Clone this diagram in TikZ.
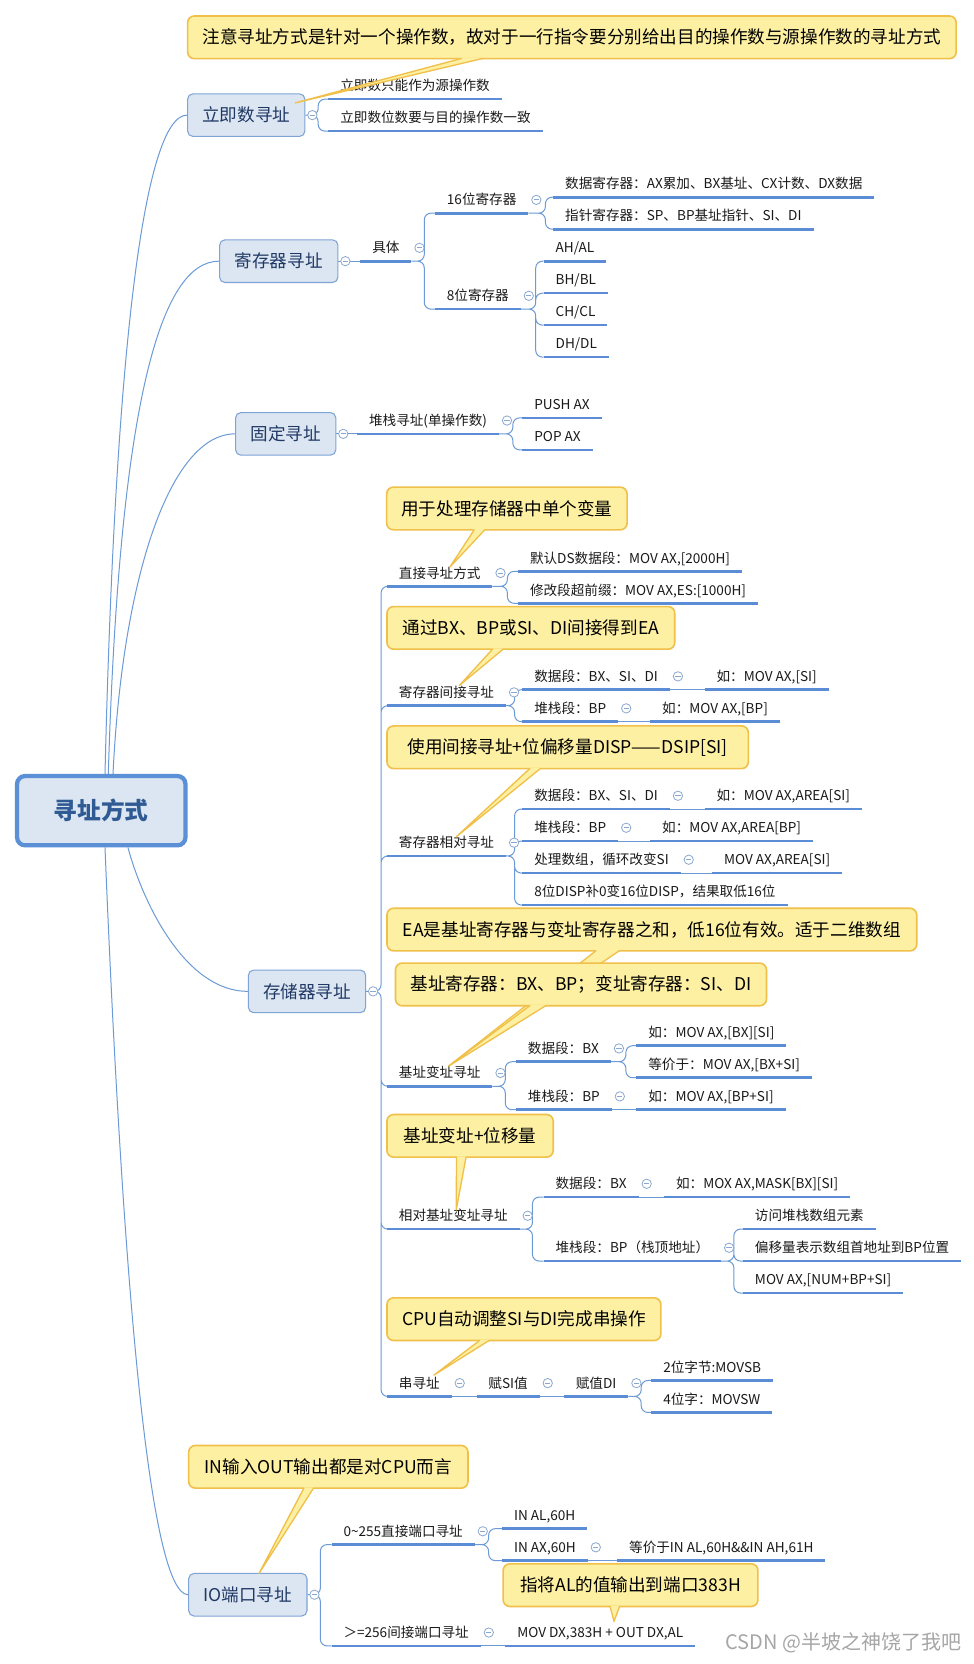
\documentclass[tikz,border=0pt]{standalone}
\usepackage{fontspec}
\setmainfont{Noto Sans CJK SC}
\usetikzlibrary{calc}
\definecolor{conncol}{HTML}{6B9AD6}
\definecolor{ulcol}{HTML}{5A8DD6}
\definecolor{boxfill}{HTML}{DCE6F2}
\definecolor{boxline}{HTML}{7EA3D4}
\definecolor{rootline}{HTML}{5B8FD6}
\definecolor{roottext}{HTML}{2F5A94}
\definecolor{maintext}{HTML}{1F3864}
\definecolor{topictext}{HTML}{1A1A1A}
\definecolor{memofill}{HTML}{FDF0A2}
\definecolor{memoline}{HTML}{F0C04A}
\definecolor{foldcol}{HTML}{8AA8CF}
\pgfdeclarelayer{bg}
\pgfdeclarelayer{lines}
\pgfsetlayers{bg,lines,main}

\begin{document}
\begin{tikzpicture}[x=0.8pt, y=-0.8pt,
	rootbox/.style={draw=rootline, line width=3.2pt, fill=boxfill, rounded corners=6pt, minimum width=126.4pt, minimum height=52pt, font=\fontsize{17.8}{20}\selectfont\bfseries, text=roottext},
	mainbox/.style={draw=boxline, line width=0.8pt, fill=boxfill, rounded corners=4pt, minimum height=32pt, font=\fontsize{13.2}{15}\selectfont, text=maintext},
	uline/.style={draw=ulcol, line width=2pt},
	topic/.style={anchor=south west, inner xsep=8.8pt, inner ysep=3.5pt, text height=8pt, text depth=2.5pt, font=\fontsize{10.2}{12}\selectfont, text=topictext, append after command={(\tikzlastnode.south west) edge[uline] (\tikzlastnode.south east)}},
	conn/.style={draw=conncol, line width=0.75pt, rounded corners=5pt},
	fold/.style={circle, draw=foldcol, fill=white, line width=0.6pt, minimum size=7pt, inner sep=0pt, path picture={\draw[foldcol, line width=0.6pt] ([xshift=-2pt]path picture bounding box.center) -- ([xshift=2pt]path picture bounding box.center);}},
	memo/.style={draw=memoline, line width=1.2pt, fill=memofill, rounded corners=5pt, minimum height=32pt, inner xsep=11pt, font=\fontsize{13.2}{15}\selectfont, text=black},
	memotail/.style={draw=memoline, line width=1pt, line join=round}]
	\begin{pgfonlayer}{bg}
		\fill[white] (0,0) rectangle (913.7,1561);
	\end{pgfonlayer}
	\useasboundingbox (0,0) rectangle (913.7,1561);

	\node[rootbox] (root) at (95,760.5) {寻址方式};
	\node[mainbox, minimum width=88pt] (imm) at (231,108) {立即数寻址};
	\node[mainbox, minimum width=88.8pt] (reg) at (261.5,245) {寄存器寻址};
	\node[mainbox, minimum width=75.2pt] (fix) at (268,407) {固定寻址};
	\node[mainbox, minimum width=88pt] (mem) at (288,930) {存储器寻址};
	\node[mainbox, minimum width=88.8pt] (io) at (232.5,1496) {IO端口寻址};

	\node[topic] (i1) at (308,93) {立即数只能作为源操作数};
	\node[topic] (i2) at (308,123) {立即数位数要与目的操作数一致};

	\node[topic] (r1) at (338,245) {具体};
	\node[topic] (r11) at (408,200) {16位寄存器};
	\node[topic] (r111) at (519,185) {数据寄存器：AX累加、BX基址、CX计数、DX数据};
	\node[topic] (r112) at (519,215) {指针寄存器：SP、BP基址指针、SI、DI};
	\node[topic] (r12) at (408,290) {8位寄存器};
	\node[topic] (r121) at (510,245) {AH/AL};
	\node[topic] (r122) at (510,275) {BH/BL};
	\node[topic] (r123) at (510,305) {CH/CL};
	\node[topic] (r124) at (510,335) {DH/DL};

	\node[topic] (f1) at (335,407) {堆栈寻址(单操作数)};
	\node[topic] (f11) at (490,392) {PUSH AX};
	\node[topic] (f12) at (490,422) {POP AX};

	\node[topic] (m1) at (363,550) {直接寻址方式};
	\node[topic] (m11) at (486,536) {默认DS数据段：MOV AX,[2000H]};
	\node[topic] (m12) at (486,566) {修改段超前缀：MOV AX,ES:[1000H]};
	\node[topic] (m2) at (363,662) {寄存器间接寻址};
	\node[topic] (m21) at (490,647) {数据段：BX、SI、DI};
	\node[topic] (m211) at (661,647) {如：MOV AX,[SI]};
	\node[topic] (m22) at (490,677) {堆栈段：BP};
	\node[topic] (m221) at (610,677) {如：MOV AX,[BP]};
	\node[topic] (m3) at (363,803) {寄存器相对寻址};
	\node[topic] (m31) at (490,759) {数据段：BX、SI、DI};
	\node[topic] (m311) at (661,759) {如：MOV AX,AREA[SI]};
	\node[topic] (m32) at (490,789) {堆栈段：BP};
	\node[topic] (m321) at (610,789) {如：MOV AX,AREA[BP]};
	\node[topic] (m33) at (490,819) {处理数组，循环改变SI};
	\node[topic] (m331) at (668,819) {MOV AX,AREA[SI]};
	\node[topic] (m34) at (490,849) {8位DISP补0变16位DISP，结果取低16位};
	\node[topic] (m4) at (363,1019) {基址变址寻址};
	\node[topic] (m41) at (484,996) {数据段：BX};
	\node[topic] (m411) at (597,981) {如：MOV AX,[BX][SI]};
	\node[topic] (m412) at (597,1011) {等价于：MOV AX,[BX+SI]};
	\node[topic] (m42) at (484,1041) {堆栈段：BP};
	\node[topic] (m421) at (597,1041) {如：MOV AX,[BP+SI]};
	\node[topic] (m5) at (363,1153) {相对基址变址寻址};
	\node[topic] (m51) at (510,1123) {数据段：BX};
	\node[topic] (m511) at (623,1123) {如：MOX AX,MASK[BX][SI]};
	\node[topic] (m52) at (510,1183) {堆栈段：BP（栈顶地址）};
	\node[topic] (m521) at (697,1153) {访问堆栈数组元素};
	\node[topic] (m522) at (697,1183) {偏移量表示数组首地址到BP位置};
	\node[topic] (m523) at (697,1213) {MOV AX,[NUM+BP+SI]};
	\node[topic] (m6) at (363,1310) {串寻址};
	\node[topic] (m61) at (447,1310) {赋SI值};
	\node[topic] (m611) at (529,1310) {赋值DI};
	\node[topic] (m6111) at (611,1295) {2位字节:MOVSB};
	\node[topic] (m6112) at (611,1325) {4位字：MOVSW};

	\node[topic] (o1) at (311,1449) {0\textasciitilde255直接端口寻址};
	\node[topic] (o11) at (471,1434) {IN AL,60H};
	\node[topic] (o12) at (471,1464) {IN AX,60H};
	\node[topic] (o121) at (579,1464) {等价于IN AL,60H\&\&IN AH,61H};
	\node[topic] (o2) at (311,1544) {＞=256间接端口寻址};
	\node[topic] (o21) at (474,1544) {MOV DX,383H + OUT DX,AL};

	\begin{pgfonlayer}{lines}
		\draw[conn] ($(root.north)+(3.5,0)$) .. controls (108,330) and (135,108) .. (imm.west);
		\draw[conn] ($(root.north)+(6.6,0)$) .. controls (112,380) and (150,245) .. (reg.west);
		\draw[conn] ($(root.north)+(11,0)$) .. controls (115,540) and (160,407) .. (fix.west);
		\draw[conn] ($(root.south)+(25,0)$) .. controls (135,850) and (175,930) .. (mem.west);
		\draw[conn] ($(root.south)+(3.5,0)$) .. controls (115,1200) and (140,1496) .. (io.west);

		\draw[conn] (imm.east) -- ++(12,0) |- (i1.south west) (imm.east) -- ++(12,0) |- (i2.south west);
		\draw[conn] (reg.east) -- (r1.south west);
		\draw[conn] (r1.south east) -- ++(12,0) |- (r11.south west) (r1.south east) -- ++(12,0) |- (r12.south west);
		\draw[conn] (r11.south east) -- ++(16,0) |- (r111.south west) (r11.south east) -- ++(16,0) |- (r112.south west);
		\draw[conn] (r12.south east) -- ++(14,0) |- (r121.south west) (r12.south east) -- ++(14,0) |- (r122.south west)
			(r12.south east) -- ++(14,0) |- (r123.south west) (r12.south east) -- ++(14,0) |- (r124.south west);
		\draw[conn] (fix.east) -- (f1.south west);
		\draw[conn] (f1.south east) -- ++(13,0) |- (f11.south west) (f1.south east) -- ++(13,0) |- (f12.south west);

		\draw[conn] (mem.east) -- ++(14,0) |- (m1.south west) (mem.east) -- ++(14,0) |- (m2.south west)
			(mem.east) -- ++(14,0) |- (m3.south west) (mem.east) -- ++(14,0) |- (m4.south west)
			(mem.east) -- ++(14,0) |- (m5.south west) (mem.east) -- ++(14,0) |- (m6.south west);
		\draw[conn] (m1.south east) -- ++(14,0) |- (m11.south west) (m1.south east) -- ++(14,0) |- (m12.south west);
		\draw[conn] (m2.south east) -- ++(8,0) |- (m21.south west) (m2.south east) -- ++(8,0) |- (m22.south west);
		\draw[conn] (m21.south east) -- (m211.south west);
		\draw[conn] (m22.south east) -- (m221.south west);
		\draw[conn] (m3.south east) -- ++(8,0) |- (m31.south west) (m3.south east) -- ++(8,0) |- (m32.south west)
			(m3.south east) -- ++(8,0) |- (m33.south west) (m3.south east) -- ++(8,0) |- (m34.south west);
		\draw[conn] (m31.south east) -- (m311.south west);
		\draw[conn] (m32.south east) -- (m321.south west);
		\draw[conn] (m33.south east) -- (m331.south west);
		\draw[conn] (m4.south east) -- ++(12,0) |- (m41.south west) (m4.south east) -- ++(12,0) |- (m42.south west);
		\draw[conn] (m41.south east) -- ++(14,0) |- (m411.south west) (m41.south east) -- ++(14,0) |- (m412.south west);
		\draw[conn] (m42.south east) -- (m421.south west);
		\draw[conn] (m5.south east) -- ++(12,0) |- (m51.south west) (m5.south east) -- ++(12,0) |- (m52.south west);
		\draw[conn] (m51.south east) -- (m511.south west);
		\draw[conn] (m52.south east) -- ++(12,0) |- (m521.south west) (m52.south east) -- ++(12,0) |- (m522.south west)
			(m52.south east) -- ++(12,0) |- (m523.south west);
		\draw[conn] (m6.south east) -- (m61.south west);
		\draw[conn] (m61.south east) -- (m611.south west);
		\draw[conn] (m611.south east) -- ++(12,0) |- (m6111.south west) (m611.south east) -- ++(12,0) |- (m6112.south west);

		\draw[conn] (io.east) -- ++(12,0) |- (o1.south west) (io.east) -- ++(12,0) |- (o2.south west);
		\draw[conn] (o1.south east) -- ++(13,0) |- (o11.south west) (o1.south east) -- ++(13,0) |- (o12.south west);
		\draw[conn] (o12.south east) -- (o121.south west);
		\draw[conn] (o2.south east) -- (o21.south west);
	\end{pgfonlayer}

	\node[fold] (kimm) at ($(imm.east)+(6.5,0)$) {};
	\node[fold] (kreg) at ($(reg.east)+(6.5,0)$) {};
	\node[fold] (kfix) at ($(fix.east)+(6.5,0)$) {};
	\node[fold] (kmem) at ($(mem.east)+(6.5,0)$) {};
	\node[fold] (kio) at ($(io.east)+(6.5,0)$) {};
	\node[fold] (kr1) at ($(r1.south east)+(7.5,-12.5)$) {};
	\node[fold] (kr11) at ($(r11.south east)+(7.5,-12.5)$) {};
	\node[fold] (kr12) at ($(r12.south east)+(7.5,-12.5)$) {};
	\node[fold] (kf1) at ($(f1.south east)+(7.5,-12.5)$) {};
	\node[fold] (km1) at ($(m1.south east)+(7.5,-12.5)$) {};
	\node[fold] (km2) at ($(m2.south east)+(7.5,-12.5)$) {};
	\node[fold] (km21) at ($(m21.south east)+(7.5,-12.5)$) {};
	\node[fold] (km22) at ($(m22.south east)+(7.5,-12.5)$) {};
	\node[fold] (km3) at ($(m3.south east)+(7.5,-12.5)$) {};
	\node[fold] (km31) at ($(m31.south east)+(7.5,-12.5)$) {};
	\node[fold] (km32) at ($(m32.south east)+(7.5,-12.5)$) {};
	\node[fold] (km33) at ($(m33.south east)+(7.5,-12.5)$) {};
	\node[fold] (km4) at ($(m4.south east)+(7.5,-12.5)$) {};
	\node[fold] (km41) at ($(m41.south east)+(7.5,-12.5)$) {};
	\node[fold] (km42) at ($(m42.south east)+(7.5,-12.5)$) {};
	\node[fold] (km5) at ($(m5.south east)+(7.5,-12.5)$) {};
	\node[fold] (km51) at ($(m51.south east)+(7.5,-12.5)$) {};
	\node[fold] (km52) at ($(m52.south east)+(7.5,-12.5)$) {};
	\node[fold] (km6) at ($(m6.south east)+(7.5,-12.5)$) {};
	\node[fold] (km61) at ($(m61.south east)+(7.5,-12.5)$) {};
	\node[fold] (km611) at ($(m611.south east)+(7.5,-12.5)$) {};
	\node[fold] (ko1) at ($(o1.south east)+(7.5,-12.5)$) {};
	\node[fold] (ko12) at ($(o12.south east)+(7.5,-12.5)$) {};
	\node[fold] (ko2) at ($(o2.south east)+(7.5,-12.5)$) {};

	\coordinate (t0) at (277,96.5);
	\coordinate (t1) at (422,532);
	\coordinate (t2) at (431,643);
	\coordinate (t3) at (428,785);
	\coordinate (t4) at (421,1000);
	\coordinate (t6) at (428,1135);
	\coordinate (t7) at (407,1290);
	\coordinate (t8) at (243,1476);
	\coordinate (t9) at (576,1521);

	\node[memo, minimum width=576.8pt] (c0) at (536.5,35) {注意寻址方式是针对一个操作数，故对于一行指令要分别给出目的操作数与源操作数的寻址方式};
	\fill[memofill] ($(c0.south west)+(258,-1.5)$) -- (t0) -- ($(c0.south west)+(278,-1.5)$) -- cycle;
	\draw[memotail] ($(c0.south west)+(258,-1)$) -- (t0) -- ($(c0.south west)+(278,-1)$);

	\node[memo, minimum width=180pt] (c1) at (475.5,477) {用于处理存储器中单个变量};
	\fill[memofill] ($(c1.south west)+(83,-1.5)$) -- (t1) -- ($(c1.south west)+(93,-1.5)$) -- cycle;
	\draw[memotail] ($(c1.south west)+(83,-1)$) -- (t1) -- ($(c1.south west)+(93,-1)$);

	\node[memo, minimum width=216pt] (c2) at (498,589) {通过BX、BP或SI、DI间接得到EA};
	\fill[memofill] ($(c2.south west)+(100,-1.5)$) -- (t2) -- ($(c2.south west)+(110,-1.5)$) -- cycle;
	\draw[memotail] ($(c2.south west)+(100,-1)$) -- (t2) -- ($(c2.south west)+(110,-1)$);

	\node[memo, minimum width=271.2pt] (c3) at (532.5,701) {使用间接寻址+位偏移量DISP——DSIP[SI]};
	\fill[memofill] ($(c3.south west)+(135,-1.5)$) -- (t3) -- ($(c3.south west)+(145,-1.5)$) -- cycle;
	\draw[memotail] ($(c3.south west)+(135,-1)$) -- (t3) -- ($(c3.south west)+(145,-1)$);

	\node[memo, minimum width=397.6pt] (c4) at (611.5,872) {EA是基址寄存器与变址寄存器之和，低16位有效。适于二维数组};
	\fill[memofill] ($(c4.south west)+(197,-1.5)$) -- (t4) -- ($(c4.south west)+(219,-1.5)$) -- cycle;
	\draw[memotail] ($(c4.south west)+(197,-1)$) -- (t4) -- ($(c4.south west)+(219,-1)$);

	\node[memo, minimum width=278.4pt] (c5) at (545,923.5) {基址寄存器：BX、BP；变址寄存器：SI、DI};
	\fill[memofill] ($(c5.south west)+(127,-1.5)$) -- (t4) -- ($(c5.south west)+(142,-1.5)$) -- cycle;
	\draw[memotail] ($(c5.south west)+(127,-1)$) -- (t4) -- ($(c5.south west)+(142,-1)$);

	\node[memo, minimum width=124.8pt] (c6) at (441,1065.5) {基址变址+位移量};
	\fill[memofill] ($(c6.south west)+(66,-1.5)$) -- (t6) -- ($(c6.south west)+(75,-1.5)$) -- cycle;
	\draw[memotail] ($(c6.south west)+(66,-1)$) -- (t6) -- ($(c6.south west)+(75,-1)$);

	\node[memo, minimum width=205.6pt] (c7) at (491.5,1237.5) {CPU自动调整SI与DI完成串操作};
	\fill[memofill] ($(c7.south west)+(88,-1.5)$) -- (t7) -- ($(c7.south west)+(97,-1.5)$) -- cycle;
	\draw[memotail] ($(c7.south west)+(88,-1)$) -- (t7) -- ($(c7.south west)+(97,-1)$);

	\node[memo, minimum width=209.6pt] (c8) at (308,1376) {IN输入OUT输出都是对CPU而言};
	\fill[memofill] ($(c8.south west)+(109,-1.5)$) -- (t8) -- ($(c8.south west)+(118,-1.5)$) -- cycle;
	\draw[memotail] ($(c8.south west)+(109,-1)$) -- (t8) -- ($(c8.south west)+(118,-1)$);

	\node[memo, minimum width=191.2pt] (c9) at (591.5,1487) {指将AL的值输出到端口383H};
	\fill[memofill] ($(c9.south west)+(101,-1.5)$) -- (t9) -- ($(c9.south west)+(110,-1.5)$) -- cycle;
	\draw[memotail] ($(c9.south west)+(101,-1)$) -- (t9) -- ($(c9.south west)+(110,-1)$);

	\node[text=black!35, font=\fontsize{15}{17}\selectfont] (mark) at (791,1541) {CSDN @半坡之神饶了我吧};
\end{tikzpicture}
\end{document}
